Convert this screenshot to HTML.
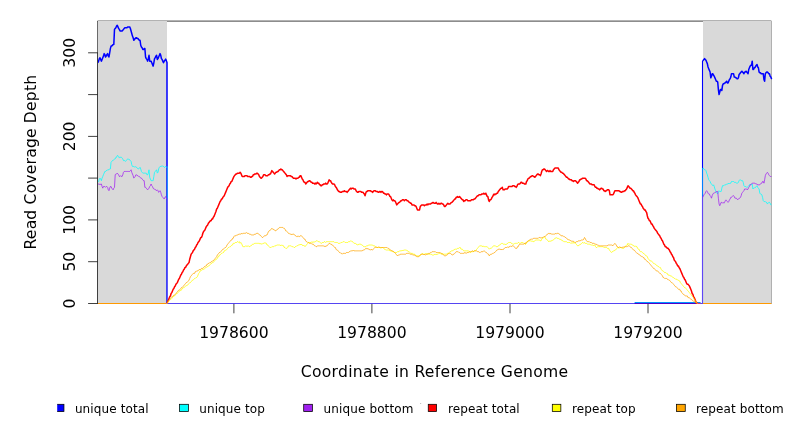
<!DOCTYPE html>
<html><head><meta charset="utf-8"><title>Read Coverage Depth</title>
<style>
html,body{margin:0;padding:0;background:#fff;}
svg{display:block;font-family:"DejaVu Sans","Liberation Sans",sans-serif;}
</style></head><body>
<svg width="792" height="432" viewBox="0 0 792 432">
<defs><clipPath id="lc"><rect x="57.2" y="400" width="20" height="20"/></clipPath></defs>
<rect x="0" y="0" width="792" height="432" fill="#ffffff"/>
<path d="M97.5,303.5V21.1H771.4" fill="none" stroke="#000" stroke-width="0.75"/>
<rect x="97.9" y="21.0" width="69.1" height="282.5" fill="#d9d9d9"/>
<path d="M97.5,303.5V21.5" fill="none" stroke="#6a6a6a" stroke-width="1"/>
<rect x="703" y="21.0" width="68.4" height="282.5" fill="#d9d9d9"/>
<path d="M771.5,21V304" stroke="#b0b0b0" stroke-width="1" fill="none"/>
<g fill="none" stroke-linejoin="round" stroke-linecap="butt">
<polyline stroke="#0000ff" stroke-width="1.5" points="97.50,62.50 98.00,62.50 98.63,61.15 99.32,58.64 100.01,57.80 100.70,59.48 101.39,61.15 102.08,59.48 102.77,57.80 103.46,56.13 104.15,53.63 104.84,54.46 105.53,56.97 106.22,56.13 106.91,54.46 107.60,53.63 108.29,56.13 108.98,56.97 109.67,52.79 110.36,48.61 111.05,46.10 111.74,46.10 112.43,45.27 113.12,44.43 113.81,44.43 114.50,29.39 115.19,28.55 115.88,27.72 116.57,26.05 117.26,25.21 117.95,26.88 118.64,28.55 119.34,29.39 120.03,31.06 120.72,31.06 121.41,31.06 122.10,31.06 122.79,30.23 123.48,29.39 124.17,28.55 124.86,27.72 125.55,27.72 126.24,27.72 126.93,27.72 127.62,26.88 128.31,26.88 129.00,26.88 129.69,26.88 130.38,28.55 131.07,31.06 131.76,33.57 132.45,36.08 133.14,37.75 133.83,40.25 134.52,39.42 135.21,38.58 135.90,37.75 136.59,37.75 137.28,38.58 137.97,38.58 138.66,39.42 139.35,40.25 140.04,40.25 140.73,45.27 141.42,46.94 142.11,47.78 142.80,49.45 143.49,49.45 144.18,48.61 144.87,48.61 145.56,56.97 146.25,58.64 146.94,59.48 147.63,61.15 148.32,58.64 149.01,55.30 149.70,61.15 150.39,61.15 151.08,61.15 151.77,62.82 152.46,64.49 153.15,66.16 153.84,62.82 154.53,58.64 155.22,57.80 155.91,56.13 156.60,55.30 157.29,59.48 157.98,58.64 158.67,56.97 159.36,55.30 160.05,53.63 160.74,55.30 161.43,58.64 162.12,59.48 162.81,61.15 163.50,62.82 164.19,61.15 164.88,60.31 165.58,59.48 165.70,59.10 167.00,62.50 167.00,303.50"/>
<polyline stroke="#0000ff" stroke-width="1.5" points="702.50,60.70 702.70,60.70 703.20,60.31 703.89,59.48 704.58,58.64 705.27,59.48 705.96,60.31 706.65,61.98 707.34,63.65 708.03,67.00 708.72,68.67 709.41,70.34 710.10,72.01 710.79,77.86 711.48,76.19 712.17,73.68 712.86,73.68 713.55,75.35 714.24,76.19 714.93,77.86 715.62,79.53 716.31,81.20 717.00,81.20 717.70,82.04 718.39,89.56 719.08,94.57 719.77,92.07 720.46,89.56 721.15,89.56 721.84,90.40 722.53,85.38 723.22,83.71 723.91,83.71 724.60,82.88 725.29,82.88 725.98,82.04 726.67,81.20 727.36,82.88 728.05,82.88 728.74,81.20 729.43,79.53 730.12,78.70 730.81,77.03 731.50,73.68 732.19,73.68 732.88,73.68 733.57,73.68 734.26,77.03 734.95,77.03 735.64,77.86 736.33,77.86 737.02,78.70 737.71,78.70 738.40,77.86 739.09,74.52 739.78,73.68 740.47,72.85 741.16,72.01 741.85,71.18 742.54,72.01 743.23,72.85 743.92,73.68 744.61,72.01 745.30,72.01 745.99,71.18 746.68,72.01 747.37,72.85 748.06,73.68 748.75,69.50 749.44,67.83 750.13,66.16 750.82,65.33 751.51,65.33 752.20,61.15 752.89,69.50 753.58,69.50 754.27,67.83 754.96,67.83 755.65,66.16 756.34,65.33 757.03,64.49 757.72,67.00 758.41,67.83 759.10,72.01 759.79,72.85 760.48,72.85 761.17,73.68 761.86,73.68 762.55,73.68 763.25,73.68 763.94,79.53 764.63,81.20 765.32,73.68 766.01,72.85 766.70,72.01 767.39,72.01 768.08,72.85 768.77,73.68 769.46,73.68 770.15,76.19 770.84,77.03 771.50,78.70 771.40,78.70"/>
<polyline stroke="#0000ff" stroke-width="1.1" points="702.50,303.50 702.50,60.70"/>
<polyline stroke="#00ffff" stroke-width="0.75" points="97.50,181.60 98.60,181.60 98.63,181.49 99.32,178.98 100.01,178.14 100.70,178.98 101.39,180.65 102.08,178.14 102.77,176.47 103.46,174.80 104.15,173.13 104.84,171.46 105.53,171.46 106.22,170.62 106.91,170.62 107.60,169.79 108.29,169.79 108.98,169.79 109.67,168.95 110.36,168.95 111.05,162.27 111.74,161.43 112.43,160.60 113.12,160.60 113.81,159.76 114.50,158.92 115.19,158.92 115.88,157.25 116.57,157.25 117.26,155.58 117.95,155.58 118.64,156.42 119.34,158.09 120.03,157.25 120.72,157.25 121.41,157.25 122.10,158.09 122.79,158.92 123.48,160.60 124.17,160.60 124.86,160.60 125.55,161.43 126.24,160.60 126.93,159.76 127.62,158.92 128.31,158.92 129.00,159.76 129.69,159.76 130.38,160.60 131.07,161.43 131.76,164.77 132.45,166.45 133.14,166.45 133.83,166.45 134.52,167.28 135.21,166.45 135.90,167.28 136.59,167.28 137.28,168.12 137.97,168.95 138.66,168.95 139.35,168.12 140.04,167.28 140.73,168.95 141.42,171.46 142.11,172.30 142.80,173.13 143.49,173.13 144.18,173.13 144.87,173.13 145.56,173.13 146.25,173.13 146.94,174.80 147.63,174.80 148.32,173.13 149.01,169.79 149.70,177.31 150.39,178.98 151.08,180.65 151.77,180.65 152.46,180.65 153.15,180.65 153.84,176.47 154.53,172.30 155.22,171.46 155.91,170.62 156.60,169.79 157.29,173.13 157.98,172.30 158.67,168.95 159.36,167.28 160.05,166.45 160.74,166.45 161.43,166.45 162.12,165.61 162.81,166.45 163.50,166.45 164.19,167.28 164.88,167.28 165.58,166.45 166.27,167.28 166.90,166.70 167.30,166.70"/>
<polyline stroke="#00ffff" stroke-width="0.5" points="167.30,166.70 167.30,303.50"/>
<polyline stroke="#00ffff" stroke-width="0.75" points="702.50,168.40 703.20,168.40 703.20,168.12 703.89,168.95 704.58,169.79 705.27,169.79 705.96,170.62 706.65,173.13 707.34,174.80 708.03,177.31 708.72,179.82 709.41,180.65 710.10,181.49 710.79,183.16 711.48,183.99 712.17,184.83 712.86,185.67 713.55,184.83 714.24,186.50 714.93,189.01 715.62,190.68 716.31,192.35 717.00,193.19 717.70,194.02 718.39,192.35 719.08,190.68 719.77,191.52 720.46,191.52 721.15,191.52 721.84,188.17 722.53,185.67 723.22,185.67 723.91,185.67 724.60,184.83 725.29,184.83 725.98,184.83 726.67,183.99 727.36,183.99 728.05,183.99 728.74,183.16 729.43,183.99 730.12,183.16 730.81,183.16 731.50,181.49 732.19,181.49 732.88,181.49 733.57,181.49 734.26,182.32 734.95,182.32 735.64,182.32 736.33,183.16 737.02,183.16 737.71,183.16 738.40,182.32 739.09,180.65 739.78,179.82 740.47,179.82 741.16,180.65 741.85,180.65 742.54,180.65 743.23,182.32 743.92,185.67 744.61,186.50 745.30,186.50 745.99,186.50 746.68,187.34 747.37,187.34 748.06,186.50 748.75,185.67 749.44,184.83 750.13,183.99 750.82,184.83 751.51,183.99 752.20,183.99 752.89,189.01 753.58,188.17 754.27,188.17 754.96,187.34 755.65,187.34 756.34,186.50 757.03,185.67 757.72,187.34 758.41,188.17 759.10,189.01 759.79,193.19 760.48,194.02 761.17,194.02 761.86,194.86 762.55,197.37 763.25,200.71 763.94,201.54 764.63,201.54 765.32,201.54 766.01,202.38 766.70,202.38 767.39,204.05 768.08,203.22 768.77,202.38 769.46,202.38 770.15,203.22 770.84,204.89 771.00,204.90 771.40,204.90"/>
<polyline stroke="#00ffff" stroke-width="0.5" points="702.50,303.50 702.50,168.40"/>
<polyline stroke="#a020f0" stroke-width="0.75" points="97.50,184.10 98.60,184.10 98.63,183.99 99.32,183.99 100.01,184.83 100.70,183.99 101.39,183.99 102.08,186.50 102.77,188.17 103.46,186.50 104.15,186.50 104.84,186.50 105.53,187.34 106.22,186.50 106.91,186.50 107.60,187.34 108.29,189.84 108.98,190.68 109.67,188.17 110.36,186.50 111.05,186.50 111.74,188.17 112.43,189.01 113.12,189.84 113.81,188.17 114.50,187.34 115.19,174.80 115.88,173.97 116.57,173.97 117.26,173.13 117.95,173.97 118.64,174.80 119.34,176.47 120.03,176.47 120.72,175.64 121.41,176.47 122.10,176.47 122.79,174.80 123.48,172.30 124.17,171.46 124.86,171.46 125.55,171.46 126.24,171.46 126.93,171.46 127.62,171.46 128.31,171.46 129.00,171.46 129.69,171.46 130.38,170.62 131.07,169.79 131.76,172.30 132.45,173.97 133.14,175.64 133.83,178.14 134.52,177.31 135.21,176.47 135.90,174.80 136.59,174.80 137.28,175.64 137.97,175.64 138.66,176.47 139.35,176.47 140.04,177.31 140.73,178.14 141.42,178.14 142.11,178.98 142.80,179.82 143.49,180.65 144.18,180.65 144.87,187.34 145.56,187.34 146.25,188.17 146.94,189.01 147.63,189.84 148.32,189.01 149.01,188.17 149.70,186.50 150.39,185.67 151.08,183.99 151.77,185.67 152.46,186.50 153.15,188.17 153.84,189.01 154.53,189.01 155.22,189.84 155.91,189.84 156.60,190.68 157.29,189.84 157.98,190.68 158.67,192.35 159.36,191.52 160.05,190.68 160.74,192.35 161.43,194.86 162.12,196.53 162.81,197.37 163.50,198.20 164.19,199.04 164.88,197.37 165.58,196.53 166.27,198.20 166.90,198.90 167.30,198.90"/>
<polyline stroke="#a020f0" stroke-width="0.6" points="167.30,198.90 167.30,303.50"/>
<polyline stroke="#a020f0" stroke-width="0.75" points="702.50,196.80 703.20,196.80 703.20,196.53 703.89,194.86 704.58,194.02 705.27,193.19 705.96,191.52 706.65,190.68 707.34,191.52 708.03,193.19 708.72,194.02 709.41,194.02 710.10,195.69 710.79,196.53 711.48,198.20 712.17,195.69 712.86,194.02 713.55,193.19 714.24,193.19 714.93,192.35 715.62,192.35 716.31,191.52 717.00,191.52 717.70,191.52 718.39,198.20 719.08,204.05 719.77,205.72 720.46,204.05 721.15,202.38 721.84,202.38 722.53,203.22 723.22,202.38 723.91,203.22 724.60,202.38 725.29,200.71 725.98,199.87 726.67,200.71 727.36,201.54 728.05,202.38 728.74,201.54 729.43,199.87 730.12,199.04 730.81,197.37 731.50,197.37 732.19,196.53 732.88,195.69 733.57,195.69 734.26,196.53 734.95,198.20 735.64,198.20 736.33,198.20 737.02,199.04 737.71,199.87 738.40,199.04 739.09,198.20 739.78,198.20 740.47,197.37 741.16,195.69 741.85,193.19 742.54,192.35 743.23,191.52 743.92,190.68 744.61,189.01 745.30,189.01 745.99,189.01 746.68,189.01 747.37,189.84 748.06,189.01 748.75,187.34 749.44,186.50 750.13,184.83 750.82,184.83 751.51,183.99 752.20,183.16 752.89,183.16 753.58,183.16 754.27,183.16 754.96,183.16 755.65,183.99 756.34,183.99 757.03,183.99 757.72,184.83 758.41,184.83 759.10,184.83 759.79,184.83 760.48,183.99 761.17,183.16 761.86,183.16 762.55,181.49 763.25,181.49 763.94,183.16 764.63,179.82 765.32,175.64 766.01,173.97 766.70,173.13 767.39,172.30 768.08,173.13 768.77,174.80 769.46,175.64 770.15,176.47 770.84,176.47 771.00,176.50 771.40,176.50"/>
<polyline stroke="#a020f0" stroke-width="0.6" points="702.50,303.50 702.50,196.80"/>
<path stroke="#5545f2" stroke-width="1" d="M168.0,303.5H703.0"/>
<path stroke="#0096ff" stroke-width="1" d="M634.6,302.5H700.6"/>
<path stroke="#5000c8" stroke-width="1" d="M634.6,303.5H697"/>
<polyline stroke="#ff0000" stroke-width="1.5" points="167.00,303.50 167.70,301.60 168.34,300.16 169.03,298.49 169.72,296.81 170.41,295.98 171.10,293.47 171.79,292.64 172.48,290.96 173.17,289.29 173.86,288.46 174.55,286.79 175.24,285.95 175.93,284.28 176.62,283.44 177.31,282.61 178.00,280.94 178.69,279.26 179.38,278.43 180.07,276.76 180.76,275.09 181.45,274.25 182.14,272.58 182.83,271.74 183.52,270.07 184.21,269.24 184.90,267.56 185.59,267.56 186.28,265.89 186.97,265.06 187.66,264.22 188.35,263.39 189.04,262.55 189.73,259.21 190.42,256.70 191.11,254.19 191.80,253.36 192.49,252.52 193.18,250.85 193.87,250.02 194.56,249.18 195.25,247.51 195.94,246.67 196.63,245.00 197.32,244.17 198.01,242.49 198.70,241.66 199.39,240.82 200.08,239.15 200.77,237.48 201.46,237.48 202.15,235.81 202.84,233.30 203.53,231.63 204.22,230.79 204.91,229.96 205.60,228.29 206.29,226.62 206.98,225.78 207.67,224.94 208.36,223.27 209.05,222.44 209.74,221.60 210.43,220.77 211.13,220.77 211.82,219.09 212.51,219.09 213.20,217.42 213.89,216.59 214.58,214.92 215.27,213.24 215.96,211.57 216.65,209.07 217.34,208.23 218.03,206.56 218.72,204.89 219.41,203.22 220.10,201.54 220.79,200.71 221.48,199.04 222.17,199.04 222.86,197.37 223.55,196.53 224.24,195.69 224.93,194.02 225.62,192.35 226.31,190.68 227.00,189.01 227.69,187.34 228.38,186.50 229.07,185.67 229.76,183.99 230.45,183.16 231.14,181.49 231.83,181.49 232.52,179.82 233.21,178.14 233.90,176.47 234.59,175.64 235.28,174.80 235.97,173.97 236.66,173.97 237.35,173.13 238.04,173.13 238.73,173.13 239.42,173.13 240.11,172.30 240.80,173.13 241.49,174.80 242.18,176.47 242.87,176.47 243.56,176.47 244.25,176.47 244.94,175.64 245.63,175.64 246.32,175.64 247.01,175.64 247.70,176.47 248.39,176.47 249.08,176.47 249.77,176.47 250.46,177.31 251.15,177.31 251.84,176.47 252.53,176.47 253.22,174.80 253.91,174.80 254.60,173.97 255.29,173.97 255.98,173.97 256.67,173.13 257.37,173.13 258.06,173.97 258.75,174.80 259.44,176.47 260.13,177.31 260.82,178.14 261.51,178.14 262.20,177.31 262.89,176.47 263.58,174.80 264.27,174.80 264.96,174.80 265.65,175.64 266.34,175.64 267.03,175.64 267.72,175.64 268.41,174.80 269.10,174.80 269.79,173.97 270.48,173.97 271.17,172.30 271.86,170.62 272.55,171.46 273.24,172.30 273.93,173.13 274.62,173.97 275.31,173.13 276.00,172.30 276.69,172.30 277.38,171.46 278.07,171.46 278.76,170.62 279.45,169.79 280.14,169.79 280.83,168.95 281.52,169.79 282.21,169.79 282.90,170.62 283.59,171.46 284.28,172.30 284.97,173.13 285.66,173.97 286.35,174.80 287.04,176.47 287.73,175.64 288.42,175.64 289.11,175.64 289.80,175.64 290.49,175.64 291.18,176.47 291.87,176.47 292.56,177.31 293.25,178.14 293.94,178.14 294.63,178.14 295.32,178.14 296.01,178.98 296.70,178.14 297.39,178.14 298.08,178.14 298.77,177.31 299.46,177.31 300.15,175.64 300.84,175.64 301.53,177.31 302.22,178.98 302.92,179.82 303.61,181.49 304.30,182.32 304.99,182.32 305.68,183.99 306.37,183.16 307.06,182.32 307.75,181.49 308.44,181.49 309.13,180.65 309.82,180.65 310.51,181.49 311.20,182.32 311.89,182.32 312.58,183.16 313.27,183.16 313.96,183.16 314.65,183.99 315.34,183.16 316.03,183.99 316.72,183.16 317.41,182.32 318.10,183.16 318.79,183.16 319.48,184.83 320.17,184.83 320.86,185.67 321.55,185.67 322.24,184.83 322.93,184.83 323.62,183.99 324.31,183.99 325.00,183.99 325.69,183.16 326.38,183.99 327.07,183.99 327.76,183.16 328.45,181.49 329.14,179.82 329.83,180.65 330.52,180.65 331.21,182.32 331.90,183.16 332.59,183.99 333.28,183.99 333.97,183.99 334.66,184.83 335.35,186.50 336.04,187.34 336.73,188.17 337.42,189.84 338.11,190.68 338.80,191.52 339.49,191.52 340.18,192.35 340.87,192.35 341.56,192.35 342.25,191.52 342.94,191.52 343.63,191.52 344.32,190.68 345.01,191.52 345.70,191.52 346.39,191.52 347.08,192.35 347.77,191.52 348.46,190.68 349.16,189.84 349.85,189.01 350.54,188.17 351.23,189.01 351.92,188.17 352.61,188.17 353.30,188.17 353.99,189.01 354.68,189.01 355.37,189.01 356.06,190.68 356.75,191.52 357.44,192.35 358.13,192.35 358.82,191.52 359.51,191.52 360.20,191.52 360.89,191.52 361.58,192.35 362.27,192.35 362.96,192.35 363.65,193.19 364.34,194.02 365.03,195.69 365.72,193.19 366.41,191.52 367.10,191.52 367.79,190.68 368.48,190.68 369.17,190.68 369.86,190.68 370.55,190.68 371.24,191.52 371.93,191.52 372.62,192.35 373.31,191.52 374.00,190.68 374.69,190.68 375.38,190.68 376.07,191.52 376.76,191.52 377.45,191.52 378.14,192.35 378.83,192.35 379.52,191.52 380.21,191.52 380.90,192.35 381.59,191.52 382.28,191.52 382.97,192.35 383.66,193.19 384.35,193.19 385.04,194.02 385.73,194.02 386.42,194.86 387.11,194.02 387.80,194.02 388.49,194.02 389.18,194.86 389.87,196.53 390.56,196.53 391.25,198.20 391.94,199.87 392.63,200.71 393.32,199.87 394.01,200.71 394.70,200.71 395.40,201.54 396.09,203.22 396.78,204.89 397.47,204.05 398.16,203.22 398.85,202.38 399.54,202.38 400.23,201.54 400.92,200.71 401.61,200.71 402.30,199.87 402.99,199.87 403.68,199.87 404.37,200.71 405.06,199.87 405.75,199.87 406.44,199.87 407.13,200.71 407.82,200.71 408.51,201.54 409.20,202.38 409.89,202.38 410.58,203.22 411.27,203.22 411.96,204.89 412.65,204.89 413.34,204.89 414.03,204.89 414.72,205.72 415.41,205.72 416.10,206.56 416.79,208.23 417.48,209.90 418.17,209.90 418.86,209.90 419.55,209.90 420.24,206.56 420.93,205.72 421.62,204.89 422.31,204.89 423.00,204.89 423.69,204.89 424.38,205.72 425.07,204.89 425.76,204.89 426.45,204.89 427.14,204.05 427.83,204.89 428.52,204.05 429.21,204.05 429.90,204.05 430.59,204.05 431.28,203.22 431.97,203.22 432.66,202.38 433.35,202.38 434.04,203.22 434.73,203.22 435.42,203.22 436.11,202.38 436.80,203.22 437.49,204.05 438.18,204.05 438.87,203.22 439.56,204.05 440.25,204.05 440.95,203.22 441.64,203.22 442.33,204.05 443.02,204.05 443.71,204.89 444.40,206.56 445.09,206.56 445.78,205.72 446.47,204.89 447.16,204.05 447.85,203.22 448.54,204.05 449.23,204.05 449.92,204.05 450.61,203.22 451.30,202.38 451.99,202.38 452.68,201.54 453.37,200.71 454.06,199.87 454.75,199.04 455.44,199.04 456.13,197.37 456.82,197.37 457.51,196.53 458.20,197.37 458.89,197.37 459.58,196.53 460.27,197.37 460.96,198.20 461.65,199.04 462.34,199.87 463.03,199.87 463.72,201.54 464.41,200.71 465.10,200.71 465.79,199.87 466.48,199.87 467.17,199.87 467.86,200.71 468.55,200.71 469.24,200.71 469.93,200.71 470.62,200.71 471.31,199.87 472.00,199.87 472.69,199.87 473.38,199.87 474.07,199.04 474.76,199.04 475.45,198.20 476.14,197.37 476.83,196.53 477.52,195.69 478.21,195.69 478.90,194.86 479.59,194.86 480.28,194.86 480.97,194.86 481.66,194.02 482.35,194.02 483.04,194.02 483.73,193.19 484.42,194.02 485.11,194.02 485.80,193.19 486.49,194.86 487.19,196.53 487.88,196.53 488.57,199.87 489.26,201.54 489.95,199.87 490.64,199.87 491.33,199.04 492.02,197.37 492.71,196.53 493.40,194.86 494.09,194.02 494.78,194.86 495.47,194.02 496.16,194.02 496.85,193.19 497.54,193.19 498.23,191.52 498.92,190.68 499.61,189.84 500.30,189.01 500.99,188.17 501.68,188.17 502.37,187.34 503.06,189.84 503.75,189.84 504.44,189.84 505.13,189.01 505.82,189.01 506.51,189.01 507.20,189.01 507.89,188.17 508.58,186.50 509.27,186.50 509.96,186.50 510.65,186.50 511.34,186.50 512.03,186.50 512.72,185.67 513.41,185.67 514.10,185.67 514.79,186.50 515.48,186.50 516.17,187.34 516.86,186.50 517.55,184.83 518.24,183.99 518.93,183.99 519.62,183.99 520.31,183.16 521.00,182.32 521.69,182.32 522.38,183.16 523.07,183.16 523.76,183.16 524.45,183.99 525.14,183.99 525.83,183.99 526.52,181.49 527.21,180.65 527.90,178.98 528.59,178.14 529.28,178.14 529.97,177.31 530.66,176.47 531.35,176.47 532.04,175.64 532.73,175.64 533.43,176.47 534.12,176.47 534.81,177.31 535.50,176.47 536.19,175.64 536.88,174.80 537.57,173.97 538.26,173.97 538.95,174.80 539.64,174.80 540.33,175.64 541.02,173.97 541.71,171.46 542.40,169.79 543.09,169.79 543.78,168.95 544.47,168.95 545.16,169.79 545.85,170.62 546.54,171.46 547.23,170.62 547.92,170.62 548.61,171.46 549.30,171.46 549.99,170.62 550.68,171.46 551.37,171.46 552.06,171.46 552.75,171.46 553.44,169.79 554.13,168.95 554.82,168.12 555.51,168.12 556.20,168.12 556.89,168.12 557.58,168.12 558.27,168.12 558.96,169.79 559.65,170.62 560.34,171.46 561.03,172.30 561.72,172.30 562.41,173.13 563.10,173.13 563.79,173.97 564.48,174.80 565.17,175.64 565.86,176.47 566.55,177.31 567.24,177.31 567.93,178.14 568.62,178.98 569.31,178.98 570.00,179.82 570.69,179.82 571.38,179.82 572.07,180.65 572.76,180.65 573.45,181.49 574.14,180.65 574.83,180.65 575.52,180.65 576.21,181.49 576.90,182.32 577.59,183.16 578.28,182.32 578.98,181.49 579.67,179.82 580.36,179.82 581.05,178.98 581.74,178.98 582.43,178.14 583.12,178.14 583.81,178.14 584.50,178.14 585.19,178.14 585.88,178.98 586.57,180.65 587.26,180.65 587.95,181.49 588.64,182.32 589.33,183.16 590.02,183.99 590.71,183.99 591.40,183.99 592.09,184.83 592.78,184.83 593.47,184.83 594.16,184.83 594.85,186.50 595.54,187.34 596.23,187.34 596.92,188.17 597.61,188.17 598.30,189.01 598.99,189.01 599.68,189.84 600.37,189.01 601.06,188.17 601.75,188.17 602.44,189.01 603.13,189.01 603.82,190.68 604.51,190.68 605.20,191.52 605.89,190.68 606.58,190.68 607.27,189.84 607.96,189.84 608.65,189.84 609.34,190.68 610.03,194.86 610.72,194.86 611.41,194.86 612.10,194.86 612.79,194.86 613.48,194.02 614.17,192.35 614.86,190.68 615.55,190.68 616.24,190.68 616.93,190.68 617.62,190.68 618.31,190.68 619.00,190.68 619.69,191.52 620.38,191.52 621.07,192.35 621.76,192.35 622.45,191.52 623.14,191.52 623.83,191.52 624.52,190.68 625.22,190.68 625.91,189.84 626.60,189.01 627.29,187.34 627.98,185.67 628.67,186.50 629.36,187.34 630.05,188.17 630.74,188.17 631.43,189.01 632.12,189.84 632.81,190.68 633.50,190.68 634.19,192.35 634.88,193.19 635.57,194.86 636.26,195.69 636.95,196.53 637.64,197.37 638.33,199.04 639.02,200.71 639.71,202.38 640.40,204.05 641.09,204.05 641.78,205.72 642.47,206.56 643.16,208.23 643.85,209.07 644.54,209.90 645.23,209.90 645.92,211.57 646.61,212.41 647.30,215.75 647.99,218.26 648.68,219.09 649.37,220.77 650.06,220.77 650.75,222.44 651.44,224.11 652.13,224.11 652.82,225.78 653.51,226.62 654.20,228.29 654.89,229.12 655.58,229.96 656.27,230.79 656.96,231.63 657.65,233.30 658.34,234.14 659.03,234.97 659.72,235.81 660.41,237.48 661.10,238.32 661.79,239.99 662.48,240.82 663.17,242.49 663.86,244.17 664.55,245.00 665.24,246.67 665.93,246.67 666.62,247.51 667.31,248.34 668.00,248.34 668.69,249.18 669.38,250.02 670.07,251.69 670.76,252.52 671.46,254.19 672.15,255.03 672.84,256.70 673.53,257.54 674.22,260.04 674.91,260.88 675.60,261.72 676.29,263.39 676.98,264.22 677.67,265.89 678.36,265.89 679.05,267.56 679.74,268.40 680.43,270.07 681.12,271.74 681.81,273.41 682.50,275.09 683.19,276.76 683.88,277.59 684.57,279.26 685.26,280.10 685.95,281.77 686.64,283.44 687.33,284.28 688.02,284.28 688.71,285.11 689.40,285.95 690.09,287.62 690.78,289.29 691.47,290.96 692.16,293.47 692.85,294.31 693.54,296.81 694.23,297.65 694.92,299.32 695.61,300.99 696.30,302.66 696.60,302.50 697.20,303.50"/>
<path stroke="#e0307a" stroke-width="1" d="M697,303.5H700.6"/>
<polyline stroke="#ffff00" stroke-width="0.75" points="167.00,303.50 167.70,302.50 168.34,301.83 169.03,300.99 169.72,300.16 170.41,299.32 171.10,299.32 171.79,298.49 172.48,297.65 173.17,296.81 173.86,295.98 174.55,295.98 175.24,295.14 175.93,294.31 176.62,293.47 177.31,293.47 178.00,292.64 178.69,291.80 179.38,290.96 180.07,290.96 180.76,290.13 181.45,290.13 182.14,288.46 182.83,288.46 183.52,287.62 184.21,287.62 184.90,286.79 185.59,285.95 186.28,285.95 186.97,285.11 187.66,285.11 188.35,284.28 189.04,283.44 189.73,282.61 190.42,282.61 191.11,281.77 191.80,280.94 192.49,280.10 193.18,280.10 193.87,279.26 194.56,278.43 195.25,278.43 195.94,277.59 196.63,277.59 197.32,276.76 198.01,275.09 198.70,273.41 199.39,272.58 200.08,270.91 200.77,270.91 201.46,270.07 202.15,270.07 202.84,269.24 203.53,269.24 204.22,269.24 204.91,268.40 205.60,267.56 206.29,267.56 206.98,266.73 207.67,266.73 208.36,265.89 209.05,265.89 209.74,265.06 210.43,264.22 211.13,263.39 211.82,263.39 212.51,262.55 213.20,262.55 213.89,261.72 214.58,260.88 215.27,260.04 215.96,259.21 216.65,259.21 217.34,258.37 218.03,256.70 218.72,256.70 219.41,255.03 220.10,255.03 220.79,254.19 221.48,253.36 222.17,253.36 222.86,252.52 223.55,252.52 224.24,250.85 224.93,250.85 225.62,250.02 226.31,250.02 227.00,249.18 227.69,248.34 228.38,247.51 229.07,247.51 229.76,246.67 230.45,246.67 231.14,245.84 231.83,245.00 232.52,245.00 233.21,243.33 233.90,243.33 234.59,243.33 235.28,242.49 235.97,242.49 236.66,242.49 237.35,241.66 238.04,241.66 238.73,242.49 239.42,241.66 240.11,243.33 240.80,242.49 241.49,243.33 242.18,245.00 242.87,246.67 243.56,246.67 244.25,246.67 244.94,246.67 245.63,245.84 246.32,245.84 247.01,246.67 247.70,245.84 248.39,245.84 249.08,246.67 249.77,246.67 250.46,245.84 251.15,245.84 251.84,245.00 252.53,244.17 253.22,244.17 253.91,244.17 254.60,243.33 255.29,243.33 255.98,243.33 256.67,243.33 257.37,243.33 258.06,243.33 258.75,243.33 259.44,243.33 260.13,244.17 260.82,243.33 261.51,244.17 262.20,244.17 262.89,243.33 263.58,243.33 264.27,243.33 264.96,242.49 265.65,243.33 266.34,243.33 267.03,245.00 267.72,245.00 268.41,245.84 269.10,246.67 269.79,247.51 270.48,247.51 271.17,247.51 271.86,246.67 272.55,246.67 273.24,246.67 273.93,246.67 274.62,245.84 275.31,245.84 276.00,245.84 276.69,245.00 277.38,245.00 278.07,245.00 278.76,245.00 279.45,245.00 280.14,245.00 280.83,245.84 281.52,245.00 282.21,245.00 282.90,245.84 283.59,245.84 284.28,247.51 284.97,247.51 285.66,248.34 286.35,248.34 287.04,248.34 287.73,247.51 288.42,245.84 289.11,245.84 289.80,245.84 290.49,245.84 291.18,245.84 291.87,246.67 292.56,246.67 293.25,246.67 293.94,247.51 294.63,247.51 295.32,246.67 296.01,246.67 296.70,245.84 297.39,245.84 298.08,245.00 298.77,245.00 299.46,245.00 300.15,244.17 300.84,245.00 301.53,244.17 302.22,245.00 302.92,245.84 303.61,245.00 304.30,245.84 304.99,246.67 305.68,245.84 306.37,245.00 307.06,244.17 307.75,243.33 308.44,242.49 309.13,242.49 309.82,242.49 310.51,242.49 311.20,242.49 311.89,241.66 312.58,242.49 313.27,241.66 313.96,242.49 314.65,241.66 315.34,241.66 316.03,240.82 316.72,240.82 317.41,240.82 318.10,241.66 318.79,241.66 319.48,241.66 320.17,242.49 320.86,243.33 321.55,243.33 322.24,242.49 322.93,242.49 323.62,242.49 324.31,241.66 325.00,241.66 325.69,242.49 326.38,241.66 327.07,241.66 327.76,241.66 328.45,241.66 329.14,241.66 329.83,241.66 330.52,241.66 331.21,241.66 331.90,241.66 332.59,241.66 333.28,241.66 333.97,241.66 334.66,242.49 335.35,242.49 336.04,242.49 336.73,242.49 337.42,242.49 338.11,243.33 338.80,243.33 339.49,243.33 340.18,243.33 340.87,242.49 341.56,242.49 342.25,242.49 342.94,241.66 343.63,241.66 344.32,241.66 345.01,242.49 345.70,242.49 346.39,242.49 347.08,242.49 347.77,242.49 348.46,241.66 349.16,241.66 349.85,241.66 350.54,240.82 351.23,240.82 351.92,241.66 352.61,241.66 353.30,242.49 353.99,243.33 354.68,243.33 355.37,243.33 356.06,244.17 356.75,244.17 357.44,245.00 358.13,245.00 358.82,244.17 359.51,244.17 360.20,244.17 360.89,244.17 361.58,245.00 362.27,245.00 362.96,245.84 363.65,246.67 364.34,246.67 365.03,246.67 365.72,246.67 366.41,245.84 367.10,245.84 367.79,245.84 368.48,245.00 369.17,245.00 369.86,245.00 370.55,245.00 371.24,245.00 371.93,245.00 372.62,245.00 373.31,245.84 374.00,245.84 374.69,245.84 375.38,246.67 376.07,247.51 376.76,247.51 377.45,247.51 378.14,247.51 378.83,247.51 379.52,247.51 380.21,247.51 380.90,248.34 381.59,247.51 382.28,247.51 382.97,247.51 383.66,248.34 384.35,249.18 385.04,249.18 385.73,250.02 386.42,250.02 387.11,250.02 387.80,250.02 388.49,250.02 389.18,250.02 389.87,250.85 390.56,250.85 391.25,250.85 391.94,250.85 392.63,251.69 393.32,251.69 394.01,252.52 394.70,252.52 395.40,252.52 396.09,252.52 396.78,252.52 397.47,251.69 398.16,251.69 398.85,251.69 399.54,250.85 400.23,250.85 400.92,250.85 401.61,250.85 402.30,250.02 402.99,250.85 403.68,250.02 404.37,250.02 405.06,250.02 405.75,250.02 406.44,250.02 407.13,250.85 407.82,250.85 408.51,251.69 409.20,251.69 409.89,252.52 410.58,253.36 411.27,253.36 411.96,253.36 412.65,253.36 413.34,254.19 414.03,254.19 414.72,254.19 415.41,255.03 416.10,255.87 416.79,255.87 417.48,255.87 418.17,255.87 418.86,255.87 419.55,255.87 420.24,255.03 420.93,255.03 421.62,254.19 422.31,253.36 423.00,254.19 423.69,254.19 424.38,254.19 425.07,254.19 425.76,253.36 426.45,254.19 427.14,253.36 427.83,254.19 428.52,254.19 429.21,254.19 429.90,254.19 430.59,254.19 431.28,254.19 431.97,255.03 432.66,255.03 433.35,255.03 434.04,255.03 434.73,254.19 435.42,254.19 436.11,255.03 436.80,254.19 437.49,254.19 438.18,254.19 438.87,253.36 439.56,253.36 440.25,253.36 440.95,254.19 441.64,254.19 442.33,253.36 443.02,254.19 443.71,254.19 444.40,254.19 445.09,254.19 445.78,254.19 446.47,254.19 447.16,253.36 447.85,253.36 448.54,253.36 449.23,252.52 449.92,251.69 450.61,251.69 451.30,250.85 451.99,250.85 452.68,250.85 453.37,250.02 454.06,250.02 454.75,249.18 455.44,249.18 456.13,249.18 456.82,249.18 457.51,248.34 458.20,248.34 458.89,248.34 459.58,247.51 460.27,247.51 460.96,249.18 461.65,249.18 462.34,249.18 463.03,250.02 463.72,250.85 464.41,250.85 465.10,250.85 465.79,250.85 466.48,250.85 467.17,250.85 467.86,250.85 468.55,250.85 469.24,251.69 469.93,252.52 470.62,252.52 471.31,251.69 472.00,251.69 472.69,251.69 473.38,251.69 474.07,250.85 474.76,250.85 475.45,250.85 476.14,250.02 476.83,249.18 477.52,248.34 478.21,247.51 478.90,246.67 479.59,245.84 480.28,245.84 480.97,245.84 481.66,245.84 482.35,246.67 483.04,245.84 483.73,246.67 484.42,246.67 485.11,246.67 485.80,246.67 486.49,246.67 487.19,246.67 487.88,247.51 488.57,248.34 489.26,249.18 489.95,248.34 490.64,248.34 491.33,248.34 492.02,247.51 492.71,246.67 493.40,245.84 494.09,245.84 494.78,245.84 495.47,245.84 496.16,246.67 496.85,246.67 497.54,246.67 498.23,245.84 498.92,245.84 499.61,245.00 500.30,244.17 500.99,244.17 501.68,243.33 502.37,243.33 503.06,244.17 503.75,244.17 504.44,244.17 505.13,244.17 505.82,245.00 506.51,244.17 507.20,243.33 507.89,243.33 508.58,242.49 509.27,242.49 509.96,242.49 510.65,242.49 511.34,243.33 512.03,243.33 512.72,244.17 513.41,244.17 514.10,244.17 514.79,243.33 515.48,243.33 516.17,243.33 516.86,243.33 517.55,243.33 518.24,242.49 518.93,242.49 519.62,243.33 520.31,243.33 521.00,242.49 521.69,242.49 522.38,242.49 523.07,242.49 523.76,243.33 524.45,243.33 525.14,244.17 525.83,244.17 526.52,243.33 527.21,241.66 527.90,240.82 528.59,240.82 529.28,240.82 529.97,240.82 530.66,240.82 531.35,240.82 532.04,241.66 532.73,240.82 533.43,241.66 534.12,241.66 534.81,240.82 535.50,239.99 536.19,239.99 536.88,239.99 537.57,239.99 538.26,239.99 538.95,239.99 539.64,239.99 540.33,240.82 541.02,240.82 541.71,239.15 542.40,238.32 543.09,238.32 543.78,237.48 544.47,236.64 545.16,237.48 545.85,239.15 546.54,239.15 547.23,239.99 547.92,240.82 548.61,241.66 549.30,240.82 549.99,241.66 550.68,240.82 551.37,240.82 552.06,240.82 552.75,239.99 553.44,239.99 554.13,239.15 554.82,238.32 555.51,238.32 556.20,237.48 556.89,238.32 557.58,238.32 558.27,238.32 558.96,239.15 559.65,239.15 560.34,239.15 561.03,239.99 561.72,239.99 562.41,240.82 563.10,240.82 563.79,241.66 564.48,241.66 565.17,241.66 565.86,241.66 566.55,241.66 567.24,242.49 567.93,242.49 568.62,242.49 569.31,242.49 570.00,242.49 570.69,243.33 571.38,243.33 572.07,242.49 572.76,243.33 573.45,242.49 574.14,243.33 574.83,242.49 575.52,243.33 576.21,244.17 576.90,245.00 577.59,245.84 578.28,245.84 578.98,245.00 579.67,245.00 580.36,244.17 581.05,244.17 581.74,243.33 582.43,242.49 583.12,242.49 583.81,243.33 584.50,242.49 585.19,243.33 585.88,243.33 586.57,243.33 587.26,244.17 587.95,244.17 588.64,244.17 589.33,244.17 590.02,244.17 590.71,245.00 591.40,245.00 592.09,245.00 592.78,245.00 593.47,245.84 594.16,245.00 594.85,245.00 595.54,246.67 596.23,247.51 596.92,247.51 597.61,246.67 598.30,246.67 598.99,246.67 599.68,246.67 600.37,246.67 601.06,246.67 601.75,246.67 602.44,246.67 603.13,246.67 603.82,247.51 604.51,247.51 605.20,247.51 605.89,247.51 606.58,247.51 607.27,248.34 607.96,248.34 608.65,248.34 609.34,250.02 610.03,250.85 610.72,251.69 611.41,252.52 612.10,251.69 612.79,251.69 613.48,250.85 614.17,250.85 614.86,250.02 615.55,250.02 616.24,249.18 616.93,248.34 617.62,247.51 618.31,247.51 619.00,248.34 619.69,247.51 620.38,247.51 621.07,247.51 621.76,248.34 622.45,248.34 623.14,248.34 623.83,248.34 624.52,247.51 625.22,246.67 625.91,245.84 626.60,245.00 627.29,245.00 627.98,243.33 628.67,244.17 629.36,244.17 630.05,244.17 630.74,244.17 631.43,244.17 632.12,245.00 632.81,245.00 633.50,245.84 634.19,245.84 634.88,246.67 635.57,245.84 636.26,246.67 636.95,246.67 637.64,248.34 638.33,249.18 639.02,249.18 639.71,250.85 640.40,251.69 641.09,251.69 641.78,251.69 642.47,252.52 643.16,253.36 643.85,253.36 644.54,254.19 645.23,255.03 645.92,255.87 646.61,255.87 647.30,256.70 647.99,258.37 648.68,259.21 649.37,260.04 650.06,260.88 650.75,260.88 651.44,260.88 652.13,261.72 652.82,262.55 653.51,263.39 654.20,263.39 654.89,264.22 655.58,264.22 656.27,265.06 656.96,265.89 657.65,265.89 658.34,266.73 659.03,266.73 659.72,267.56 660.41,267.56 661.10,269.24 661.79,270.07 662.48,270.91 663.17,270.91 663.86,271.74 664.55,272.58 665.24,272.58 665.93,272.58 666.62,273.41 667.31,273.41 668.00,275.09 668.69,275.09 669.38,275.09 670.07,275.92 670.76,275.92 671.46,275.92 672.15,276.76 672.84,277.59 673.53,277.59 674.22,278.43 674.91,278.43 675.60,279.26 676.29,279.26 676.98,279.26 677.67,280.10 678.36,280.10 679.05,280.94 679.74,280.94 680.43,282.61 681.12,283.44 681.81,284.28 682.50,285.11 683.19,285.95 683.88,286.79 684.57,287.62 685.26,287.62 685.95,288.46 686.64,289.29 687.33,290.13 688.02,290.96 688.71,291.80 689.40,292.64 690.09,293.47 690.78,294.31 691.47,295.14 692.16,295.98 692.85,296.81 693.54,297.65 694.23,299.32 694.92,300.16 695.61,300.99 696.30,302.66 696.60,302.50 697.20,303.50"/>
<polyline stroke="#ffa500" stroke-width="0.75" points="167.00,303.50 167.70,301.60 168.34,300.99 169.03,300.16 169.72,299.32 170.41,298.49 171.10,297.65 171.79,296.81 172.48,296.81 173.17,295.98 173.86,295.14 174.55,295.14 175.24,294.31 175.93,293.47 176.62,292.64 177.31,291.80 178.00,290.96 178.69,290.13 179.38,290.13 180.07,289.29 180.76,288.46 181.45,287.62 182.14,287.62 182.83,286.79 183.52,285.95 184.21,285.11 184.90,284.28 185.59,283.44 186.28,282.61 186.97,282.61 187.66,281.77 188.35,280.94 189.04,280.10 189.73,278.43 190.42,276.76 191.11,275.92 191.80,275.09 192.49,274.25 193.18,273.41 193.87,273.41 194.56,273.41 195.25,271.74 195.94,271.74 196.63,270.91 197.32,270.91 198.01,270.91 198.70,270.07 199.39,269.24 200.08,270.07 200.77,269.24 201.46,268.40 202.15,268.40 202.84,268.40 203.53,267.56 204.22,266.73 204.91,266.73 205.60,265.89 206.29,265.89 206.98,264.22 207.67,264.22 208.36,263.39 209.05,263.39 209.74,262.55 210.43,262.55 211.13,261.72 211.82,261.72 212.51,260.88 213.20,260.88 213.89,260.04 214.58,259.21 215.27,258.37 215.96,257.54 216.65,256.70 217.34,255.03 218.03,254.19 218.72,253.36 219.41,252.52 220.10,252.52 220.79,251.69 221.48,250.85 222.17,250.02 222.86,249.18 223.55,249.18 224.24,248.34 224.93,247.51 225.62,247.51 226.31,246.67 227.00,245.00 227.69,244.17 228.38,243.33 229.07,242.49 229.76,241.66 230.45,240.82 231.14,239.99 231.83,239.99 232.52,238.32 233.21,238.32 233.90,236.64 234.59,235.81 235.28,235.81 235.97,235.81 236.66,234.97 237.35,234.97 238.04,234.97 238.73,234.14 239.42,234.14 240.11,234.14 240.80,234.14 241.49,233.30 242.18,234.14 242.87,233.30 243.56,233.30 244.25,233.30 244.94,233.30 245.63,233.30 246.32,232.47 247.01,233.30 247.70,233.30 248.39,233.30 249.08,234.14 249.77,234.14 250.46,234.14 251.15,234.97 251.84,234.97 252.53,234.97 253.22,234.97 253.91,234.97 254.60,234.14 255.29,234.14 255.98,234.14 256.67,233.30 257.37,233.30 258.06,233.30 258.75,234.14 259.44,234.97 260.13,234.97 260.82,235.81 261.51,236.64 262.20,237.48 262.89,237.48 263.58,236.64 264.27,235.81 264.96,235.81 265.65,235.81 266.34,234.97 267.03,234.97 267.72,233.30 268.41,231.63 269.10,230.79 269.79,230.79 270.48,229.96 271.17,229.12 271.86,228.29 272.55,229.12 273.24,229.12 273.93,229.96 274.62,229.96 275.31,230.79 276.00,230.79 276.69,229.96 277.38,229.12 278.07,229.12 278.76,228.29 279.45,227.45 280.14,227.45 280.83,227.45 281.52,227.45 282.21,227.45 282.90,227.45 283.59,228.29 284.28,228.29 284.97,229.12 285.66,230.79 286.35,230.79 287.04,231.63 287.73,232.47 288.42,233.30 289.11,233.30 289.80,234.14 290.49,234.14 291.18,234.14 291.87,234.97 292.56,234.14 293.25,234.14 293.94,234.14 294.63,234.97 295.32,235.81 296.01,235.81 296.70,236.64 297.39,236.64 298.08,235.81 298.77,236.64 299.46,236.64 300.15,235.81 300.84,235.81 301.53,235.81 302.22,236.64 302.92,237.48 303.61,238.32 304.30,239.15 304.99,239.15 305.68,240.82 306.37,241.66 307.06,241.66 307.75,242.49 308.44,242.49 309.13,243.33 309.82,243.33 310.51,243.33 311.20,243.33 311.89,244.17 312.58,244.17 313.27,244.17 313.96,245.00 314.65,245.84 315.34,245.84 316.03,246.67 316.72,246.67 317.41,245.84 318.10,245.84 318.79,245.84 319.48,245.84 320.17,245.84 320.86,245.84 321.55,245.84 322.24,245.84 322.93,245.84 323.62,245.84 324.31,246.67 325.00,245.84 325.69,246.67 326.38,245.84 327.07,245.84 327.76,245.00 328.45,244.17 329.14,243.33 329.83,243.33 330.52,244.17 331.21,244.17 331.90,245.00 332.59,245.00 333.28,245.84 333.97,246.67 334.66,247.51 335.35,247.51 336.04,249.18 336.73,250.02 337.42,250.02 338.11,250.85 338.80,251.69 339.49,252.52 340.18,252.52 340.87,253.36 341.56,253.36 342.25,254.19 342.94,253.36 343.63,253.36 344.32,253.36 345.01,253.36 345.70,253.36 346.39,252.52 347.08,252.52 347.77,252.52 348.46,252.52 349.16,251.69 349.85,251.69 350.54,250.85 351.23,250.85 351.92,250.85 352.61,250.85 353.30,250.02 353.99,250.85 354.68,250.85 355.37,250.85 356.06,250.85 356.75,250.85 357.44,250.85 358.13,250.85 358.82,250.85 359.51,250.85 360.20,250.85 360.89,250.85 361.58,250.85 362.27,250.85 362.96,250.02 363.65,250.02 364.34,250.02 365.03,249.18 365.72,248.34 366.41,248.34 367.10,249.18 367.79,248.34 368.48,249.18 369.17,249.18 369.86,250.02 370.55,250.02 371.24,249.18 371.93,250.02 372.62,250.02 373.31,249.18 374.00,248.34 374.69,247.51 375.38,247.51 376.07,246.67 376.76,247.51 377.45,247.51 378.14,247.51 378.83,246.67 379.52,247.51 380.21,247.51 380.90,247.51 381.59,247.51 382.28,247.51 382.97,247.51 383.66,247.51 384.35,247.51 385.04,247.51 385.73,247.51 386.42,247.51 387.11,247.51 387.80,248.34 388.49,248.34 389.18,249.18 389.87,249.18 390.56,250.02 391.25,250.85 391.94,250.85 392.63,250.85 393.32,251.69 394.01,251.69 394.70,252.52 395.40,253.36 396.09,254.19 396.78,255.03 397.47,255.87 398.16,255.03 398.85,255.03 399.54,255.03 400.23,254.19 400.92,254.19 401.61,254.19 402.30,254.19 402.99,254.19 403.68,254.19 404.37,254.19 405.06,254.19 405.75,254.19 406.44,253.36 407.13,253.36 407.82,253.36 408.51,253.36 409.20,253.36 409.89,254.19 410.58,254.19 411.27,254.19 411.96,254.19 412.65,255.03 413.34,255.03 414.03,255.03 414.72,255.03 415.41,255.87 416.10,255.87 416.79,256.70 417.48,256.70 418.17,256.70 418.86,256.70 419.55,255.87 420.24,255.03 420.93,254.19 421.62,254.19 422.31,254.19 423.00,254.19 423.69,255.03 424.38,254.19 425.07,255.03 425.76,255.03 426.45,254.19 427.14,254.19 427.83,254.19 428.52,253.36 429.21,253.36 429.90,253.36 430.59,252.52 431.28,252.52 431.97,251.69 432.66,251.69 433.35,251.69 434.04,251.69 434.73,251.69 435.42,251.69 436.11,252.52 436.80,252.52 437.49,252.52 438.18,252.52 438.87,252.52 439.56,252.52 440.25,252.52 440.95,253.36 441.64,253.36 442.33,254.19 443.02,254.19 443.71,255.03 444.40,255.87 445.09,255.87 445.78,255.87 446.47,255.03 447.16,255.03 447.85,254.19 448.54,253.36 449.23,253.36 449.92,253.36 450.61,253.36 451.30,254.19 451.99,255.03 452.68,255.03 453.37,254.19 454.06,254.19 454.75,253.36 455.44,252.52 456.13,251.69 456.82,251.69 457.51,251.69 458.20,251.69 458.89,252.52 459.58,252.52 460.27,253.36 460.96,253.36 461.65,253.36 462.34,253.36 463.03,253.36 463.72,253.36 464.41,252.52 465.10,253.36 465.79,252.52 466.48,253.36 467.17,252.52 467.86,252.52 468.55,252.52 469.24,251.69 469.93,251.69 470.62,251.69 471.31,251.69 472.00,250.85 472.69,250.85 473.38,251.69 474.07,250.85 474.76,250.85 475.45,250.85 476.14,250.85 476.83,250.85 477.52,251.69 478.21,251.69 478.90,251.69 479.59,252.52 480.28,252.52 480.97,251.69 481.66,251.69 482.35,251.69 483.04,251.69 483.73,250.85 484.42,250.85 485.11,251.69 485.80,252.52 486.49,252.52 487.19,253.36 487.88,254.19 488.57,254.19 489.26,255.87 489.95,255.03 490.64,254.19 491.33,254.19 492.02,254.19 492.71,253.36 493.40,253.36 494.09,252.52 494.78,252.52 495.47,251.69 496.16,250.85 496.85,250.02 497.54,250.02 498.23,249.18 498.92,249.18 499.61,249.18 500.30,249.18 500.99,250.02 501.68,249.18 502.37,250.02 503.06,249.18 503.75,249.18 504.44,248.34 505.13,247.51 505.82,247.51 506.51,247.51 507.20,247.51 507.89,246.67 508.58,247.51 509.27,246.67 509.96,246.67 510.65,245.84 511.34,246.67 512.03,245.84 512.72,245.84 513.41,245.84 514.10,246.67 514.79,247.51 515.48,248.34 516.17,248.34 516.86,248.34 517.55,246.67 518.24,246.67 518.93,245.00 519.62,244.17 520.31,244.17 521.00,244.17 521.69,244.17 522.38,244.17 523.07,244.17 523.76,244.17 524.45,243.33 525.14,244.17 525.83,242.49 526.52,242.49 527.21,241.66 527.90,241.66 528.59,240.82 529.28,239.99 529.97,239.99 530.66,239.15 531.35,239.15 532.04,239.15 532.73,239.15 533.43,238.32 534.12,238.32 534.81,238.32 535.50,238.32 536.19,238.32 536.88,238.32 537.57,238.32 538.26,238.32 538.95,237.48 539.64,237.48 540.33,237.48 541.02,238.32 541.71,237.48 542.40,237.48 543.09,237.48 543.78,236.64 544.47,236.64 545.16,236.64 545.85,235.81 546.54,234.97 547.23,234.14 547.92,234.14 548.61,233.30 549.30,233.30 549.99,234.14 550.68,233.30 551.37,234.14 552.06,234.14 552.75,234.14 553.44,234.14 554.13,234.14 554.82,234.14 555.51,233.30 556.20,234.14 556.89,233.30 557.58,233.30 558.27,233.30 558.96,234.14 559.65,234.14 560.34,234.97 561.03,235.81 561.72,235.81 562.41,235.81 563.10,235.81 563.79,236.64 564.48,236.64 565.17,237.48 565.86,237.48 566.55,238.32 567.24,239.15 567.93,239.15 568.62,239.99 569.31,239.99 570.00,239.99 570.69,240.82 571.38,240.82 572.07,241.66 572.76,240.82 573.45,241.66 574.14,241.66 574.83,242.49 575.52,242.49 576.21,241.66 576.90,241.66 577.59,241.66 578.28,240.82 578.98,240.82 579.67,240.82 580.36,240.82 581.05,239.99 581.74,239.99 582.43,239.99 583.12,239.99 583.81,239.15 584.50,237.48 585.19,238.32 585.88,239.99 586.57,240.82 587.26,241.66 587.95,241.66 588.64,241.66 589.33,241.66 590.02,242.49 590.71,242.49 591.40,242.49 592.09,243.33 592.78,243.33 593.47,243.33 594.16,243.33 594.85,244.17 595.54,244.17 596.23,244.17 596.92,245.00 597.61,245.00 598.30,245.00 598.99,245.84 599.68,245.84 600.37,245.84 601.06,245.84 601.75,245.84 602.44,245.84 603.13,245.84 603.82,245.84 604.51,245.84 605.20,245.84 605.89,245.84 606.58,245.84 607.27,245.84 607.96,245.00 608.65,245.00 609.34,245.00 610.03,245.00 610.72,245.00 611.41,245.00 612.10,245.00 612.79,245.84 613.48,245.00 614.17,244.17 614.86,243.33 615.55,244.17 616.24,245.00 616.93,246.67 617.62,246.67 618.31,247.51 619.00,247.51 619.69,246.67 620.38,247.51 621.07,247.51 621.76,247.51 622.45,247.51 623.14,246.67 623.83,247.51 624.52,246.67 625.22,246.67 625.91,246.67 626.60,246.67 627.29,246.67 627.98,245.84 628.67,245.84 629.36,245.84 630.05,246.67 630.74,247.51 631.43,247.51 632.12,248.34 632.81,249.18 633.50,250.02 634.19,250.02 634.88,250.85 635.57,251.69 636.26,252.52 636.95,253.36 637.64,253.36 638.33,254.19 639.02,254.19 639.71,255.03 640.40,255.87 641.09,255.87 641.78,256.70 642.47,256.70 643.16,257.54 643.85,257.54 644.54,259.21 645.23,259.21 645.92,260.04 646.61,260.88 647.30,261.72 647.99,261.72 648.68,262.55 649.37,263.39 650.06,264.22 650.75,265.06 651.44,265.89 652.13,266.73 652.82,267.56 653.51,268.40 654.20,268.40 654.89,269.24 655.58,270.07 656.27,270.91 656.96,270.91 657.65,270.91 658.34,271.74 659.03,272.58 659.72,273.41 660.41,273.41 661.10,274.25 661.79,275.09 662.48,275.92 663.17,277.59 663.86,277.59 664.55,278.43 665.24,278.43 665.93,278.43 666.62,278.43 667.31,279.26 668.00,279.26 668.69,280.10 669.38,280.10 670.07,280.94 670.76,281.77 671.46,282.61 672.15,282.61 672.84,283.44 673.53,284.28 674.22,285.11 674.91,285.95 675.60,286.79 676.29,286.79 676.98,287.62 677.67,288.46 678.36,289.29 679.05,289.29 679.74,289.29 680.43,290.96 681.12,290.96 681.81,292.64 682.50,293.47 683.19,294.31 683.88,294.31 684.57,295.14 685.26,295.98 685.95,295.98 686.64,295.98 687.33,295.98 688.02,297.65 688.71,297.65 689.40,297.65 690.09,298.49 690.78,299.32 691.47,299.32 692.16,300.16 692.85,300.99 693.54,300.99 694.23,301.83 694.92,301.83 695.61,302.66 696.30,302.66 696.60,302.90 697.20,303.50"/>
<path stroke="#ff9900" stroke-width="1" d="M97.8,303.5H166M702.9,303.5H771.4"/>
</g>
<g fill="none" stroke="#000000" stroke-width="0.75">

<path d="M233.9,303.9v9.4"/>
<path d="M371.9,303.9v9.4"/>
<path d="M510.0,303.9v9.4"/>
<path d="M648.0,303.9v9.4"/>
<path d="M97.5,303.875V52.425" stroke="#404040" stroke-width="1"/>
<path d="M97.5,303.5h-9.4"/>
<path d="M97.5,261.7h-9.4"/>
<path d="M97.5,219.9h-9.4"/>
<path d="M97.5,178.1h-9.4"/>
<path d="M97.5,136.4h-9.4"/>
<path d="M97.5,94.6h-9.4"/>
<path d="M97.5,52.8h-9.4"/>
</g>
<g fill="#000000" font-size="15.6px" text-anchor="middle">
<text x="233.9" y="337.8">1978600</text>
<text x="371.9" y="337.8">1978800</text>
<text x="510.0" y="337.8">1979000</text>
<text x="648.0" y="337.8">1979200</text>
<text transform="translate(74.8,303.5) rotate(-90)">0</text>
<text transform="translate(74.8,261.7) rotate(-90)">50</text>
<text transform="translate(74.8,219.9) rotate(-90)">100</text>
<text transform="translate(74.8,136.4) rotate(-90)">200</text>
<text transform="translate(74.8,52.8) rotate(-90)">300</text>
<text x="434.6" y="377" letter-spacing="0.29">Coordinate in Reference Genome</text>
<text transform="translate(35.8,162.1) rotate(-90)" letter-spacing="0.18">Read Coverage Depth</text>
</g>
<g font-size="12px" fill="#000000" letter-spacing="0.12">
<rect x="55.1" y="404.3" width="8.85" height="7.3" fill="#0000ff" stroke="#000" stroke-width="0.75" clip-path="url(#lc)"/><text x="74.9" y="412.6">unique total</text>
<rect x="179.4" y="404.3" width="9.0" height="7.3" fill="#00ffff" stroke="#000" stroke-width="0.75"/><text x="199.2" y="412.6">unique top</text>
<rect x="303.7" y="404.3" width="8.7" height="7.3" fill="#a020f0" stroke="#000" stroke-width="0.75"/><text x="323.6" y="412.6">unique bottom</text>
<rect x="428.25" y="404.3" width="8.3" height="7.3" fill="#ff0000" stroke="#000" stroke-width="0.75"/><text x="448.0" y="412.6">repeat total</text>
<rect x="552.3" y="404.3" width="8.55" height="7.3" fill="#ffff00" stroke="#000" stroke-width="0.75"/><text x="572.0" y="412.6">repeat top</text>
<rect x="676.4" y="404.3" width="8.85" height="7.3" fill="#ffa500" stroke="#000" stroke-width="0.75"/><text x="696.0" y="412.6">repeat bottom</text>
</g>
<rect x="420" y="403" width="1.2" height="1" fill="#c4c4c4"/>
</svg></body></html>
